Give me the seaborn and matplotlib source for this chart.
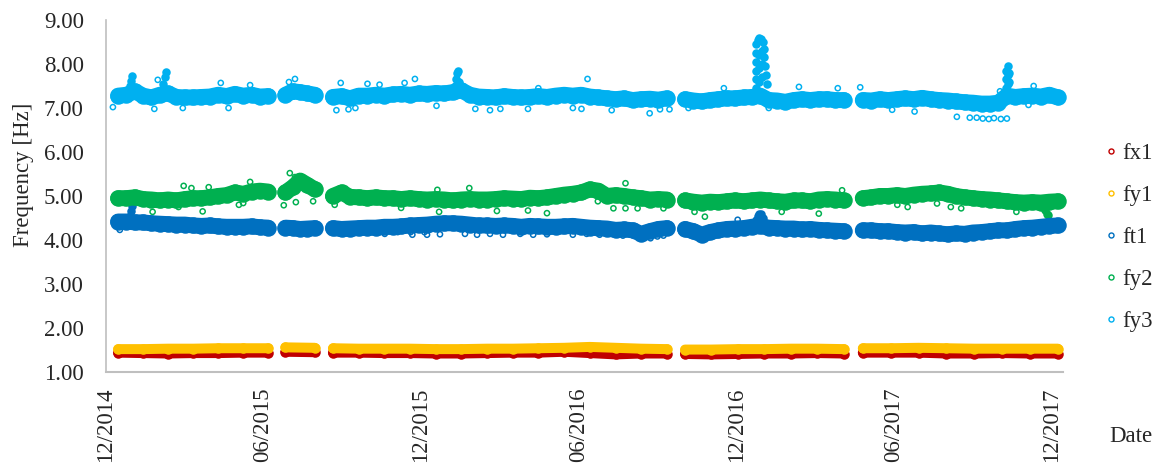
import numpy as np
import pandas as pd
import matplotlib
matplotlib.use("Agg")
import matplotlib.pyplot as plt
import matplotlib.dates as mdates
from matplotlib.lines import Line2D
import seaborn as sns

# ---------------------------------------------------------------------------
# Identified natural frequencies [Hz], monitoring Dec 2014 - Dec 2017.
# Acquisition ran in five continuous blocks (start, end); each block holds the
# typical frequency read at regular intervals inside it.
# ---------------------------------------------------------------------------
block_bounds = [
    ("2014-12-15", "2015-06-07"),
    ("2015-06-27", "2015-07-31"),
    ("2015-08-21", "2016-09-11"),
    ("2016-10-02", "2017-04-04"),
    ("2017-04-26", "2017-12-08"),
]

fx1_blocks = [
    [1.44, 1.43, 1.42, 1.43, 1.43, 1.44, 1.44],
    [1.46, 1.45],
    [1.44, 1.44, 1.43, 1.43, 1.42, 1.42, 1.43, 1.44, 1.44, 1.46, 1.43, 1.40, 1.42, 1.42],
    [1.41, 1.40, 1.41, 1.42, 1.42, 1.43, 1.42],
    [1.44, 1.44, 1.44, 1.42, 1.42, 1.43, 1.42, 1.42],
]
fy1_blocks = [
    [1.52, 1.52, 1.53, 1.53, 1.54, 1.54, 1.54],
    [1.56, 1.55],
    [1.54, 1.53, 1.53, 1.53, 1.52, 1.52, 1.53, 1.53, 1.54, 1.55, 1.57, 1.55, 1.53, 1.52],
    [1.51, 1.51, 1.52, 1.52, 1.53, 1.53, 1.52],
    [1.54, 1.54, 1.55, 1.54, 1.53, 1.53, 1.53, 1.53],
]
ft1_blocks = [
    [4.42, 4.42, 4.40, 4.40, 4.38, 4.37, 4.36, 4.35, 4.35, 4.33, 4.32, 4.33, 4.31,
     4.30, 4.30, 4.30, 4.31, 4.29, 4.28],
    [4.28, 4.27, 4.25, 4.26, 4.27],
    [4.27, 4.25, 4.26, 4.27, 4.28, 4.28, 4.30, 4.30, 4.31, 4.33, 4.34, 4.35, 4.37,
     4.38, 4.38, 4.37, 4.35, 4.33, 4.33, 4.32, 4.33, 4.32, 4.30, 4.32, 4.31, 4.30,
     4.30, 4.31, 4.32, 4.30, 4.28, 4.27, 4.26, 4.23, 4.24, 4.22, 4.14, 4.20, 4.25, 4.27],
    [4.25, 4.20, 4.12, 4.18, 4.22, 4.25, 4.26, 4.27, 4.30, 4.32, 4.28, 4.27, 4.26,
     4.26, 4.24, 4.25, 4.23, 4.22, 4.21, 4.20],
    [4.22, 4.22, 4.20, 4.20, 4.18, 4.17, 4.18, 4.15, 4.17, 4.15, 4.13, 4.15, 4.14,
     4.17, 4.18, 4.20, 4.22, 4.22, 4.25, 4.27, 4.28, 4.30, 4.32, 4.33],
]
fy2_blocks = [
    [4.95, 4.95, 4.97, 4.93, 4.92, 4.90, 4.92, 4.90, 4.93, 4.95, 4.95, 4.97, 5.00,
     5.02, 5.08, 5.05, 5.10, 5.12, 5.10],
    [5.08, 5.20, 5.35, 5.25, 5.15],
    [5.00, 5.08, 4.98, 4.97, 4.95, 4.97, 4.95, 4.95, 4.93, 4.95, 4.93, 4.92, 4.93,
     4.92, 4.90, 4.92, 4.93, 4.92, 4.92, 4.93, 4.95, 4.94, 4.93, 4.96, 4.95, 4.97,
     5.00, 5.03, 5.05, 5.08, 5.15, 5.12, 5.00, 5.02, 5.00, 4.97, 4.95, 4.92, 4.93, 4.92],
    [4.90, 4.87, 4.85, 4.87, 4.86, 4.88, 4.90, 4.88, 4.90, 4.92, 4.90, 4.88, 4.87,
     4.90, 4.90, 4.88, 4.92, 4.93, 4.92, 4.90],
    [4.95, 4.97, 5.00, 5.00, 5.02, 5.00, 5.03, 5.05, 5.06, 5.08, 5.05, 5.00, 4.97,
     4.95, 4.93, 4.92, 4.90, 4.88, 4.86, 4.85, 4.86, 4.85, 4.87, 4.88],
]
fy3_blocks = [
    [7.28, 7.30, 7.38, 7.28, 7.24, 7.30, 7.33, 7.25, 7.24, 7.24, 7.25, 7.26, 7.30,
     7.27, 7.32, 7.28, 7.30, 7.26, 7.27],
    [7.30, 7.38, 7.36, 7.33, 7.30],
    [7.25, 7.27, 7.22, 7.28, 7.28, 7.30, 7.28, 7.31, 7.32, 7.30, 7.33, 7.32, 7.34,
     7.33, 7.36, 7.40, 7.30, 7.26, 7.25, 7.24, 7.27, 7.25, 7.24, 7.25, 7.27, 7.25,
     7.28, 7.30, 7.28, 7.30, 7.26, 7.24, 7.22, 7.20, 7.22, 7.18, 7.20, 7.21, 7.19, 7.22],
    [7.20, 7.17, 7.15, 7.18, 7.20, 7.22, 7.22, 7.24, 7.25, 7.28, 7.18, 7.17, 7.14,
     7.18, 7.20, 7.18, 7.20, 7.20, 7.18, 7.18],
    [7.18, 7.17, 7.20, 7.18, 7.20, 7.22, 7.20, 7.23, 7.20, 7.18, 7.17, 7.15, 7.13,
     7.12, 7.10, 7.10, 7.12, 7.28, 7.25, 7.27, 7.28, 7.26, 7.30, 7.24],
]

# Short-lived frequency peaks (dense readings)
ft1_peak_dates = ["2014-12-29", "2014-12-30", "2014-12-31",
                  "2016-12-23", "2016-12-25", "2016-12-27", "2016-12-29", "2016-12-31"]
ft1_peak_vals = [4.55, 4.67, 4.77,
                 4.45, 4.55, 4.60, 4.58, 4.50]
fy2_peak_dates = ["2017-11-23", "2017-11-25", "2017-11-27"]
fy2_peak_vals = [4.68, 4.60, 4.56]
fy3_peak_dates = ["2014-12-29", "2014-12-30", "2014-12-31",
                  "2015-02-05", "2015-02-07", "2015-02-08",
                  "2016-01-10", "2016-01-11", "2016-01-12", "2016-01-13", "2016-01-14",
                  "2016-12-23", "2016-12-23", "2016-12-23", "2016-12-23", "2016-12-23",
                  "2016-12-23", "2016-12-25", "2016-12-27", "2016-12-29", "2016-12-31",
                  "2016-12-27", "2016-12-27", "2016-12-27", "2016-12-30", "2016-12-30",
                  "2016-12-30", "2017-01-01", "2017-01-02", "2017-01-03", "2017-01-04",
                  "2017-01-05",
                  "2017-10-09", "2017-10-09", "2017-10-09", "2017-10-11", "2017-10-11",
                  "2017-10-11", "2017-10-13", "2017-10-13"]
fy3_peak_vals = [7.50, 7.62, 7.72,
                 7.55, 7.70, 7.82,
                 7.50, 7.65, 7.80, 7.85, 7.60,
                 7.45, 7.65, 7.85, 8.05, 8.25, 8.45,
                 8.55, 8.58, 8.57, 8.50,
                 7.60, 7.90, 8.20, 7.70, 8.00, 8.30,
                 8.35, 8.15, 7.95, 7.75, 7.55,
                 7.45, 7.65, 7.85, 7.95, 7.75, 7.55, 7.80, 7.60]

# Isolated readings away from the main cloud
ft1_out_dates = ["2014-12-17", "2015-08-21", "2015-09-07", "2015-10-08", "2015-10-20",
                 "2015-11-04", "2015-11-19", "2015-11-21", "2015-12-05", "2015-12-08",
                 "2015-12-23", "2016-01-21", "2016-02-04", "2016-02-19", "2016-03-05",
                 "2016-03-25", "2016-04-09", "2016-04-25", "2016-05-25", "2016-06-10",
                 "2016-06-25", "2016-07-22", "2016-08-02", "2016-08-23", "2016-08-31",
                 "2016-09-07", "2016-10-19", "2016-12-02"]
ft1_out_vals = [4.23, 4.20, 4.16, 4.18, 4.14, 4.18, 4.18, 4.12, 4.18, 4.12,
                4.13, 4.14, 4.12, 4.14, 4.12, 4.14, 4.12, 4.13, 4.12, 4.14,
                4.12, 4.10, 4.12, 4.04, 4.08, 4.10, 4.04, 4.46]
fy2_out_dates = ["2015-01-24", "2015-02-23", "2015-03-01", "2015-03-10", "2015-03-23",
                 "2015-03-30", "2015-05-04", "2015-05-09", "2015-05-17", "2015-06-25",
                 "2015-07-02", "2015-07-08", "2015-07-09", "2015-07-29", "2015-08-23",
                 "2015-11-08", "2015-12-20", "2015-12-22", "2016-01-26", "2016-02-27",
                 "2016-04-03", "2016-04-25", "2016-06-23", "2016-07-11", "2016-07-25",
                 "2016-07-25", "2016-08-08", "2016-09-07", "2016-10-13", "2016-10-25",
                 "2017-01-22", "2017-03-06", "2017-04-02", "2017-06-05", "2017-06-17",
                 "2017-07-21", "2017-08-06", "2017-08-18", "2017-10-21"]
fy2_out_vals = [4.64, 4.75, 5.23, 5.18, 4.65, 5.20, 4.80, 4.84, 5.32, 4.79,
                5.52, 5.43, 4.86, 4.88, 4.80, 4.73, 5.14, 4.64, 5.18, 4.66,
                4.67, 4.61, 4.88, 4.72, 5.29, 4.72, 4.72, 4.72, 4.64, 4.53,
                4.64, 4.60, 5.13, 4.80, 4.75, 4.83, 4.75, 4.72, 4.64]
fy3_out_dates = ["2014-12-09", "2015-01-26", "2015-01-30", "2015-02-28", "2015-04-13",
                 "2015-04-22", "2015-05-17", "2015-07-01", "2015-07-08", "2015-08-25",
                 "2015-08-30", "2015-09-08", "2015-09-16", "2015-09-30", "2015-10-14",
                 "2015-11-12", "2015-11-24", "2015-12-19", "2016-02-02", "2016-02-19",
                 "2016-03-02", "2016-04-03", "2016-04-15", "2016-05-25", "2016-06-04",
                 "2016-06-11", "2016-07-09", "2016-08-22", "2016-09-03", "2016-09-14",
                 "2016-10-06", "2016-11-16", "2017-01-07", "2017-02-11", "2017-03-28",
                 "2017-04-23", "2017-05-30", "2017-06-25", "2017-08-13", "2017-08-28",
                 "2017-09-05", "2017-09-12", "2017-09-19", "2017-09-25", "2017-10-02",
                 "2017-10-03", "2017-10-10", "2017-11-04", "2017-11-10"]
fy3_out_vals = [7.02, 6.98, 7.64, 7.00, 7.57, 7.00, 7.52, 7.59, 7.66, 6.95,
                7.57, 6.97, 7.00, 7.55, 7.53, 7.57, 7.66, 7.05, 6.98, 6.95,
                6.98, 6.98, 7.45, 7.00, 6.98, 7.66, 6.95, 6.88, 6.97, 6.97,
                7.00, 7.45, 7.00, 7.48, 7.45, 7.47, 6.96, 6.92, 6.80, 6.78,
                6.78, 6.76, 6.75, 6.77, 7.38, 6.75, 6.76, 7.07, 7.50]

series_names = ["fx1", "fy1", "ft1", "fy2", "fy3"]
series_colors = {"fx1": "#C00000", "fy1": "#FFC000", "ft1": "#0070C0",
                 "fy2": "#00B050", "fy3": "#00B0F0"}

xtick_dates = ["2014-12-01", "2015-06-01", "2015-12-01", "2016-06-01",
               "2016-12-01", "2017-06-01", "2017-12-01"]
yticks = [1, 2, 3, 4, 5, 6, 7, 8, 9]

# ---------------------------------------------------------------------------
blocks = {"fx1": fx1_blocks, "fy1": fy1_blocks, "ft1": ft1_blocks,
          "fy2": fy2_blocks, "fy3": fy3_blocks}
peaks = {"ft1": (ft1_peak_dates, ft1_peak_vals),
         "fy2": (fy2_peak_dates, fy2_peak_vals),
         "fy3": (fy3_peak_dates, fy3_peak_vals)}
outliers = {"ft1": (ft1_out_dates, ft1_out_vals),
            "fy2": (fy2_out_dates, fy2_out_vals),
            "fy3": (fy3_out_dates, fy3_out_vals)}

rows = []
for name in series_names:
    for b, ((start, end), vals) in enumerate(zip(block_bounds, blocks[name])):
        dates = pd.date_range(start, end, periods=len(vals))
        for d, v in zip(dates, vals):
            rows.append({"series": name, "block": b, "date": d, "freq": v})
df = pd.DataFrame(rows)

sns.set_style("white")
plt.rcParams["font.family"] = ["Liberation Serif", "DejaVu Serif"]
plt.rcParams["lines.solid_capstyle"] = "round"
plt.rcParams["lines.solid_joinstyle"] = "round"

fig = plt.figure(figsize=(11.64, 4.66), dpi=100)
ax = fig.add_axes([106 / 1164, 1 - 372 / 466, 957 / 1164, 352 / 466])

PX = 0.72  # points per pixel at 100 dpi
# (line width, marker diameter) in pixels for the dense reading clouds
band_style = {"fx1": (10.0, 10.5), "fy1": (10.0, 10.5), "ft1": (16.0, 16.5),
              "fy2": (16.0, 16.5), "fy3": (16.0, 16.5)}

for name in series_names:
    col = series_colors[name]
    lw_px, ms_px = band_style[name]
    sub = df[df["series"] == name]
    sns.lineplot(data=sub, x="date", y="freq", units="block", estimator=None,
                 sort=False, color=col, linewidth=lw_px * PX, marker="o",
                 markersize=ms_px * PX, markeredgewidth=0, legend=False,
                 ax=ax, clip_on=False)
    if name in peaks:
        pk_d, pk_v = peaks[name]
        pk = pd.DataFrame({"date": pd.to_datetime(pk_d), "freq": pk_v})
        sns.scatterplot(data=pk, x="date", y="freq", color=col, edgecolor=col,
                        s=(8.5 * PX) ** 2, linewidth=0, legend=False, ax=ax,
                        clip_on=False)
    if name in outliers:
        od, ov = outliers[name]
        ot = pd.DataFrame({"date": pd.to_datetime(od), "freq": ov})
        sns.scatterplot(data=ot, x="date", y="freq", color=col, facecolors="none",
                        edgecolor=col, s=(5.2 * PX) ** 2, linewidth=1.5 * PX,
                        legend=False, ax=ax, clip_on=False)

# Axes
ax.set_xlim(mdates.date2num(pd.Timestamp("2014-12-01")),
            mdates.date2num(pd.Timestamp("2017-12-14")))
ax.set_ylim(1, 9)
ax.set_xticks([mdates.date2num(pd.Timestamp(d)) for d in xtick_dates])
ax.xaxis.set_major_formatter(mdates.DateFormatter("%m/%Y"))
ax.set_yticks(yticks)
ax.set_yticklabels([f"{v:.2f}" for v in yticks])
ax.tick_params(axis="x", labelrotation=90, length=0, pad=11, labelsize=16.5)
ax.tick_params(axis="y", length=0, pad=16, labelsize=16.5)
for lab in ax.get_xticklabels():
    lab.set_va("top")
    lab.set_ha("center")

ax.set_xlabel("")
ax.set_ylabel("Frequency [Hz]", fontsize=16.5)
ax.yaxis.set_label_coords(-0.075, 0.56)

for side in ["top", "right"]:
    ax.spines[side].set_visible(False)
ax.spines["left"].set_color("#BFBFBF")
ax.spines["left"].set_linewidth(1.2)
ax.spines["bottom"].set_color("#BFBFBF")
ax.spines["bottom"].set_linewidth(1.5)
ax.grid(False)
ax.set_facecolor("white")

fig.text(1131 / 1164, 1 - 436 / 466, "Date", fontsize=16.5, ha="center", va="center")

handles = [Line2D([], [], linestyle="none", marker="o", markersize=5.0 * PX,
                  markerfacecolor="none", markeredgecolor=series_colors[n],
                  markeredgewidth=1.4 * PX) for n in series_names]
fig.legend(handles, series_names, loc="center left",
           bbox_to_anchor=(1105 / 1164, 1 - 237.5 / 466), frameon=False,
           fontsize=16.5, borderpad=0, handlelength=0.5, handletextpad=0.27,
           labelspacing=0.92, borderaxespad=0)

fig.savefig("out.png", dpi=100)
